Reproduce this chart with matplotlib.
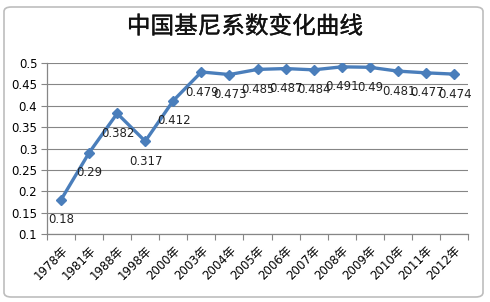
import matplotlib
matplotlib.use("Agg")
import matplotlib.pyplot as plt
import matplotlib.patheffects as pe
from matplotlib.patches import FancyBboxPatch

years = ["1978年", "1981年", "1988年", "1998年", "2000年", "2003年", "2004年", "2005年",
         "2006年", "2007年", "2008年", "2009年", "2010年", "2011年", "2012年"]
gini = [0.18, 0.29, 0.382, 0.317, 0.412, 0.479, 0.473, 0.485, 0.487, 0.484,
        0.491, 0.49, 0.481, 0.477, 0.474]
yticks = [0.1, 0.15, 0.2, 0.25, 0.3, 0.35, 0.4, 0.45, 0.5]
title = "中国基尼系数变化曲线"

plt.rcParams['font.family'] = ['DejaVu Sans', 'Noto Sans CJK SC']

W, H = 490, 302
fig = plt.figure(figsize=(W / 100, H / 100), dpi=100)
fig.patch.set_facecolor('white')

# chart border
border = FancyBboxPatch((4 / W, 5 / H), 479 / W, 290 / H,
                        boxstyle="round,pad=0,rounding_size=0.015",
                        transform=fig.transFigure, fill=False,
                        edgecolor='#bdbdbd', linewidth=1.2)
fig.patches.append(border)

left, right = 47 / W, 468 / W
top, bottom = 1 - 63 / H, 1 - 234 / H
ax = fig.add_axes([left, bottom, right - left, top - bottom])

x = list(range(len(years)))
ax.plot(x, gini, color='#4a7ebb', linewidth=2.4, marker='D', markersize=5.5,
        markerfacecolor='#4a7ebb', markeredgecolor='#4a7ebb', zorder=3)

for xi, v in zip(x, gini):
    ax.annotate(f"{v:g}", (xi, v), xytext=(0.5, -14.5), textcoords='offset points',
                ha='center', va='center', fontsize=8.5, color='#222222',
                family='DejaVu Sans', zorder=4)

ax.set_xlim(-0.5, len(years) - 0.5)
ax.set_ylim(0.1, 0.5)
ax.set_yticks(yticks)
ax.set_yticklabels([f"{t:g}" for t in yticks], fontsize=8.5,
                   family=['DejaVu Sans'])
ax.set_xticks([i - 0.5 for i in range(len(years) + 1)], minor=False)
ax.set_xticklabels([])
ax.set_xticks(x, minor=True)
ax.set_xticklabels(years, minor=True, rotation=45, ha='right', va='top',
                   rotation_mode='anchor', fontsize=8.5,
                   family=['DejaVu Sans', 'Noto Sans CJK SC'])
ax.tick_params(axis='x', which='minor', length=0, pad=7)
ax.tick_params(axis='x', which='major', length=4, direction='out', color='#868686')
ax.tick_params(axis='y', length=4, direction='out', color='#868686', pad=3)

ax.grid(axis='y', color='#868686', linewidth=0.8)
ax.set_axisbelow(True)
for s in ['top', 'right']:
    ax.spines[s].set_visible(False)
for s in ['left', 'bottom']:
    ax.spines[s].set_color('#868686')
    ax.spines[s].set_linewidth(0.9)

t = fig.text(0.5, 1 - 27 / H, title, ha='center', va='center', fontsize=17,
             family=['Noto Sans CJK SC'], color='#111111')
t.set_path_effects([pe.withStroke(linewidth=0.25, foreground='#111111')])

fig.savefig("out.png", dpi=100, facecolor='white')
